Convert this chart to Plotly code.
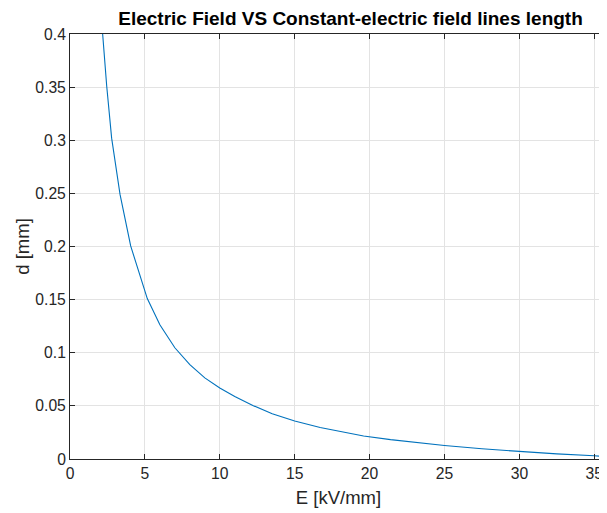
import plotly.graph_objects as go

# Data
E_values = [2.0, 2.18, 2.45, 2.78, 3.34, 4.05, 5.16, 6.0, 7.0, 8.0, 9.0, 10.0, 11.0,
            12.24, 13.5, 15.0, 16.7, 18.0, 19.6, 21.4, 23.0, 25.0, 27.5, 30.0, 32.5, 35.0, 36.0]
d_values = [0.44, 0.400, 0.351, 0.302, 0.249, 0.2005, 0.151, 0.1263, 0.1047, 0.0888, 0.0764,
            0.0668, 0.0589, 0.0502, 0.0426, 0.0357, 0.0296, 0.0258, 0.0217, 0.0182, 0.0155,
            0.0127, 0.0096, 0.0069, 0.0048, 0.0030, 0.0021]

x_ticks = [0, 5, 10, 15, 20, 25, 30, 35]
y_ticks = [0, 0.05, 0.1, 0.15, 0.2, 0.25, 0.3, 0.35, 0.4]

title_text = "Electric Field VS Constant-electric field lines length"
x_label = "E [kV/mm]"
y_label = "d [mm]"

# The page body has an 8px margin, so the figure is sized to fit the visible area.
FIG_W, FIG_H = 599, 505

fig = go.Figure()
fig.add_trace(go.Scatter(x=E_values, y=d_values, mode="lines",
                         line=dict(color="#0072BD", width=1.1), showlegend=False))

axis_common = dict(
    showline=True, linecolor="#262626", linewidth=1,
    ticks="inside", ticklen=5, tickcolor="#262626", tickwidth=1,
    showgrid=True, gridcolor="#e3e3e3", gridwidth=1,
    zeroline=False, automargin=False,
    tickfont=dict(family="Liberation Sans", size=15.7, color="#262626"),
)

fig.update_layout(
    width=FIG_W, height=FIG_H,
    margin=dict(l=62, r=0, t=25.5, b=53.5, autoexpand=False),
    paper_bgcolor="white", plot_bgcolor="white",
    title=dict(text="<b>" + title_text + "</b>", x=342.5 / FIG_W, xanchor="center",
               y=1 - 10.5 / FIG_H, yanchor="middle", xref="container", yref="container",
               font=dict(family="Liberation Sans", size=19, color="black")),
    xaxis=dict(range=[0, 35.85], tickvals=x_ticks, mirror="ticks",
               title=dict(text=x_label, standoff=10,
                          font=dict(family="Liberation Sans", size=18.5, color="#262626")),
               **axis_common),
    yaxis=dict(range=[0, 0.4], tickvals=y_ticks, mirror=False,
               title=dict(text=y_label, standoff=0,
                          font=dict(family="Liberation Sans", size=18.5, color="#262626")),
               **axis_common),
)

fig.write_html("out.html")
